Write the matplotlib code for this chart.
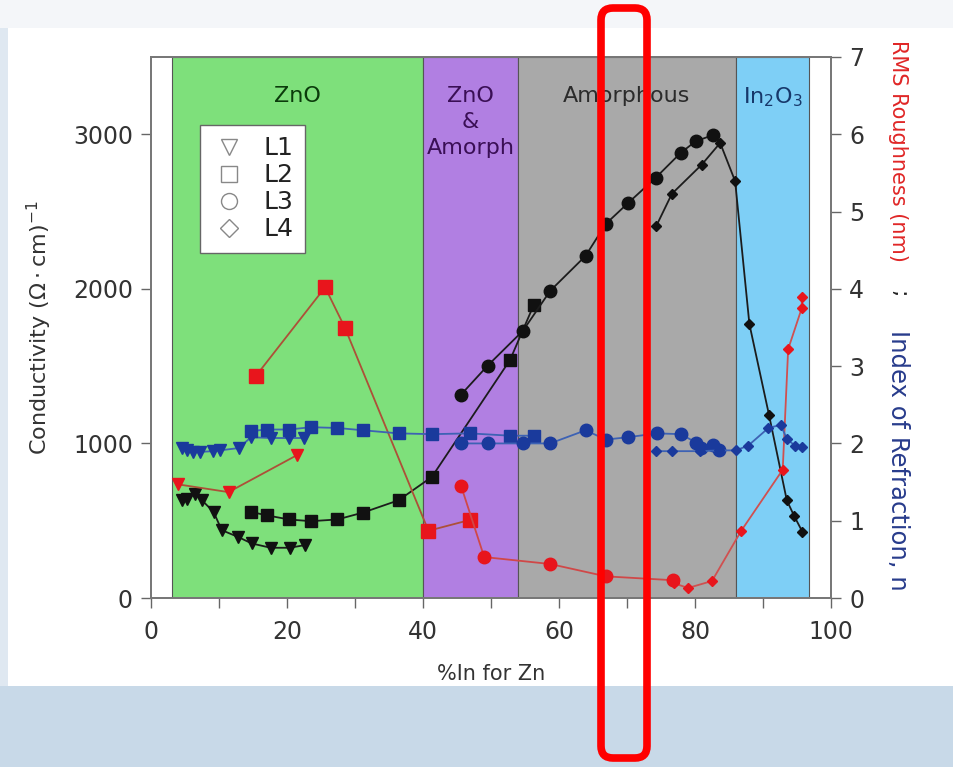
# -*- coding: utf-8 -*-
"""
Conductivity (left axis), RMS roughness and index of refraction (right axis)
versus %In for Zn, with the phase regions shaded behind the data.
"""
import matplotlib
matplotlib.use("Agg")
import matplotlib.pyplot as plt
from matplotlib.patches import Rectangle, FancyBboxPatch
from matplotlib.lines import Line2D
from matplotlib.transforms import IdentityTransform

plt.rcParams['font.family'] = ['DejaVu Sans']

# phase regions (x start, x end, colour, label)
region_edges = [3.1, 40.0, 54.0, 86.0, 96.8]
region_colors = ['#7ee07b', '#b17fe2', '#a9a9a9', '#7ecff6']
region_labels = ['ZnO', 'ZnO\n&\nAmorph', 'Amorphous', 'In$_2$O$_3$']
region_text_colors = ['#0b3b0b', '#3a0f55', '#2b2b2b', '#17386a']

# conductivity, (ohm cm)^-1
cond_L1_x = [4.5, 5.3, 6.5, 7.5, 9.2, 10.4, 12.8, 14.8, 17.6, 20.4, 22.6]
cond_L1_y = [632, 643, 675, 632, 557, 439, 395, 353, 325, 325, 342]
cond_L2_x = [14.7, 17.0, 20.3, 23.5, 27.4, 31.2, 36.4, 41.3, 52.8, 56.3]
cond_L2_y = [557, 535, 508, 497, 508, 553, 632, 783, 1540, 1897]
cond_L3_x = [45.6, 49.5, 54.7, 58.7, 63.9, 66.9, 70.2, 74.2, 77.9, 80.1, 82.6]
cond_L3_y = [1316, 1503, 1729, 1987, 2213, 2421, 2557, 2718, 2880, 2955, 2994]
cond_L4_x = [74.3, 76.6, 81.0, 83.7, 85.9, 88.0, 90.9, 93.5, 94.6, 95.8]
cond_L4_y = [2406, 2615, 2804, 2944, 2697, 1772, 1181, 632, 529, 428]

# RMS roughness, nm
rms_L1_x = [4.0, 11.4, 21.5]
rms_L1_y = [1.47, 1.37, 1.85]
rms_L2_x = [15.4, 25.6, 28.5, 40.8, 46.9]
rms_L2_y = [2.87, 4.02, 3.50, 0.87, 1.01]
rms_L3_x = [45.6, 49.0, 58.7, 66.9, 76.8]
rms_L3_y = [1.45, 0.53, 0.44, 0.28, 0.23]
rms_L4_x = [76.9, 79.0, 82.5, 86.8, 92.9, 93.7, 95.7, 95.7]
rms_L4_y = [0.19, 0.13, 0.22, 0.87, 1.66, 3.22, 3.75, 3.90]

# index of refraction, n
n_L1_x = [4.5, 5.3, 6.2, 7.2, 9.1, 10.1, 12.9, 14.7, 17.6, 20.3, 22.5]
n_L1_y = [1.94, 1.91, 1.89, 1.89, 1.90, 1.91, 1.94, 2.08, 2.07, 2.07, 2.07]
n_L2_x = [14.7, 17.0, 20.3, 23.5, 27.4, 31.2, 36.4, 41.3, 46.9, 52.8, 56.3]
n_L2_y = [2.16, 2.18, 2.18, 2.21, 2.20, 2.17, 2.13, 2.12, 2.13, 2.10, 2.10]
n_L3_x = [45.6, 49.5, 54.7, 58.7, 63.9, 66.9, 70.1, 74.4, 77.9, 80.2, 80.9, 82.6, 83.6]
n_L3_y = [2.00, 2.00, 2.00, 2.00, 2.17, 2.05, 2.08, 2.13, 2.12, 2.01, 1.94, 1.98, 1.92]
n_L4_x = [74.3, 76.6, 80.8, 83.5, 86.0, 87.8, 90.8, 92.6, 93.5, 94.7, 95.8]
n_L4_y = [1.90, 1.90, 1.90, 1.91, 1.91, 1.97, 2.20, 2.24, 2.06, 1.97, 1.95]

legend_labels = ['L1', 'L2', 'L3', 'L4']
legend_markers = ['v', 's', 'o', 'D']

fig = plt.figure(figsize=(9.54, 7.67), dpi=100)
fig.patch.set_facecolor('#f4f6f9')
# slide-like background: blue strip at bottom, white panel behind the chart
fig.patches.append(Rectangle((0, 0), 1, 81/767., transform=fig.transFigure,
                             facecolor='#c8d9e8', edgecolor='none', zorder=-10))
fig.patches.append(Rectangle((0, 81/767.), 8/954., 658/767., transform=fig.transFigure,
                             facecolor='#dfe8f1', edgecolor='none', zorder=-10))
fig.patches.append(Rectangle((8/954., 81/767.), 1, 658/767., transform=fig.transFigure,
                             facecolor='white', edgecolor='none', zorder=-9))

ax = fig.add_axes([151/954., 1-598/767., 680/954., 541/767.])
ax.set_facecolor('white')
ax.set_xlim(0, 100)
ax.set_ylim(0, 3500)

for i in range(4):
    ax.axvspan(region_edges[i], region_edges[i+1], facecolor=region_colors[i],
               edgecolor='#555555', linewidth=0.8, zorder=0)
    xc = 0.5*(region_edges[i] + region_edges[i+1])
    ax.text(xc, 3315, region_labels[i], ha='center', va='top', fontsize=16,
            color=region_text_colors[i], linespacing=1.4, zorder=1)

black = '#111111'
ax.plot(cond_L1_x, cond_L1_y, '-v', color='#1c1c1c', mfc=black, mec=black, ms=8, lw=1.3)
ax.plot(cond_L2_x, cond_L2_y, '-s', color='#1c1c1c', mfc=black, mec=black, ms=9, lw=1.3)
ax.plot(cond_L3_x, cond_L3_y, '-o', color='#1c1c1c', mfc=black, mec=black, ms=9, lw=1.3)
ax.plot(cond_L4_x, cond_L4_y, '-D', color='#1c1c1c', mfc=black, mec=black, ms=5.5, lw=1.3)

ax.set_xticks([0, 20, 40, 60, 80, 100])
ax.set_xticks([10, 30, 50, 70, 90], minor=True)
ax.set_yticks([0, 1000, 2000, 3000])
ax.tick_params(which='both', direction='out', length=7, width=1, color='#666666',
               labelcolor='#333333', labelsize=17, pad=6)
ax.tick_params(axis='x', which='both', pad=9)
ax.set_xlabel('%In for Zn', fontsize=15, color='#333333', labelpad=14)
ax.set_ylabel('Conductivity ($\\Omega\\cdot$cm)$^{-1}$', fontsize=16, color='#333333', labelpad=14)
for s in ax.spines.values():
    s.set_color('#777777')
    s.set_linewidth(1.3)

ax2 = ax.twinx()
ax2.set_ylim(0, 7)
ax2.set_yticks(range(8))
ax2.tick_params(direction='out', length=7, width=1, color='#666666',
                labelcolor='#333333', labelsize=17, pad=6)
for s in ax2.spines.values():
    s.set_color('#777777')
    s.set_linewidth(1.3)

red_m = '#e8151c'
red_l = '#ad5038'
ax2.plot(rms_L1_x, rms_L1_y, '-v', color=red_l, mfc=red_m, mec=red_m, ms=8, lw=1.3)
ax2.plot(rms_L2_x, rms_L2_y, '-s', color=red_l, mfc=red_m, mec=red_m, ms=9.5, lw=1.3)
ax2.plot(rms_L3_x, rms_L3_y, '-o', color='#d04848', mfc=red_m, mec=red_m, ms=9, lw=1.3)
ax2.plot(rms_L4_x, rms_L4_y, '-D', color='#d05050', mfc=red_m, mec=red_m, ms=5.5, lw=1.3)

blue_m = '#1a3a9c'
blue_l = '#3d62b4'
ax2.plot(n_L1_x, n_L1_y, '-v', color=blue_l, mfc=blue_m, mec=blue_m, ms=8, lw=1.3)
ax2.plot(n_L2_x, n_L2_y, '-s', color=blue_l, mfc=blue_m, mec=blue_m, ms=9, lw=1.3)
ax2.plot(n_L3_x, n_L3_y, '-o', color=blue_l, mfc=blue_m, mec=blue_m, ms=9, lw=1.3)
ax2.plot(n_L4_x, n_L4_y, '-D', color=blue_l, mfc=blue_m, mec=blue_m, ms=5.5, lw=1.3)

# legend with open grey markers
handles = [Line2D([], [], ls='none', marker=m, mfc='none', mec='#888888',
                  ms=(9 if m == 'D' else 11.5), mew=1.0)
           for m in legend_markers]
leg = ax2.legend(handles, legend_labels, loc='upper left', bbox_to_anchor=(0.072, 0.874),
                 fontsize=18, frameon=True, fancybox=False, handlelength=1.4,
                 handletextpad=0.7, labelspacing=0.12, borderpad=0.45, borderaxespad=0,
                 framealpha=1)
leg.get_frame().set_edgecolor('#666666')
leg.get_frame().set_facecolor('white')
leg.get_frame().set_linewidth(1.0)
for t in leg.get_texts():
    t.set_color('#222222')

# right axis label in three colours
fig.text(898/954., 1-40/767., 'RMS Roughness (nm)', rotation=270, ha='center', va='top',
         fontsize=15, color='#e02626')
fig.text(898/954., 1-290/767., ';', rotation=270, ha='center', va='top',
         fontsize=16, color='#222222')
fig.text(898/954., 1-330/767., 'Index of Refraction, n', rotation=270, ha='center', va='top',
         fontsize=17.5, color='#283c8c')

# red highlight box drawn over the picture
fig.patches.append(FancyBboxPatch((613, 21), 22, 726, boxstyle='round,pad=12,rounding_size=12',
                                  transform=IdentityTransform(), facecolor='none',
                                  edgecolor='#ff0000', linewidth=5.5, zorder=20))

fig.savefig('out.png', dpi=100)
